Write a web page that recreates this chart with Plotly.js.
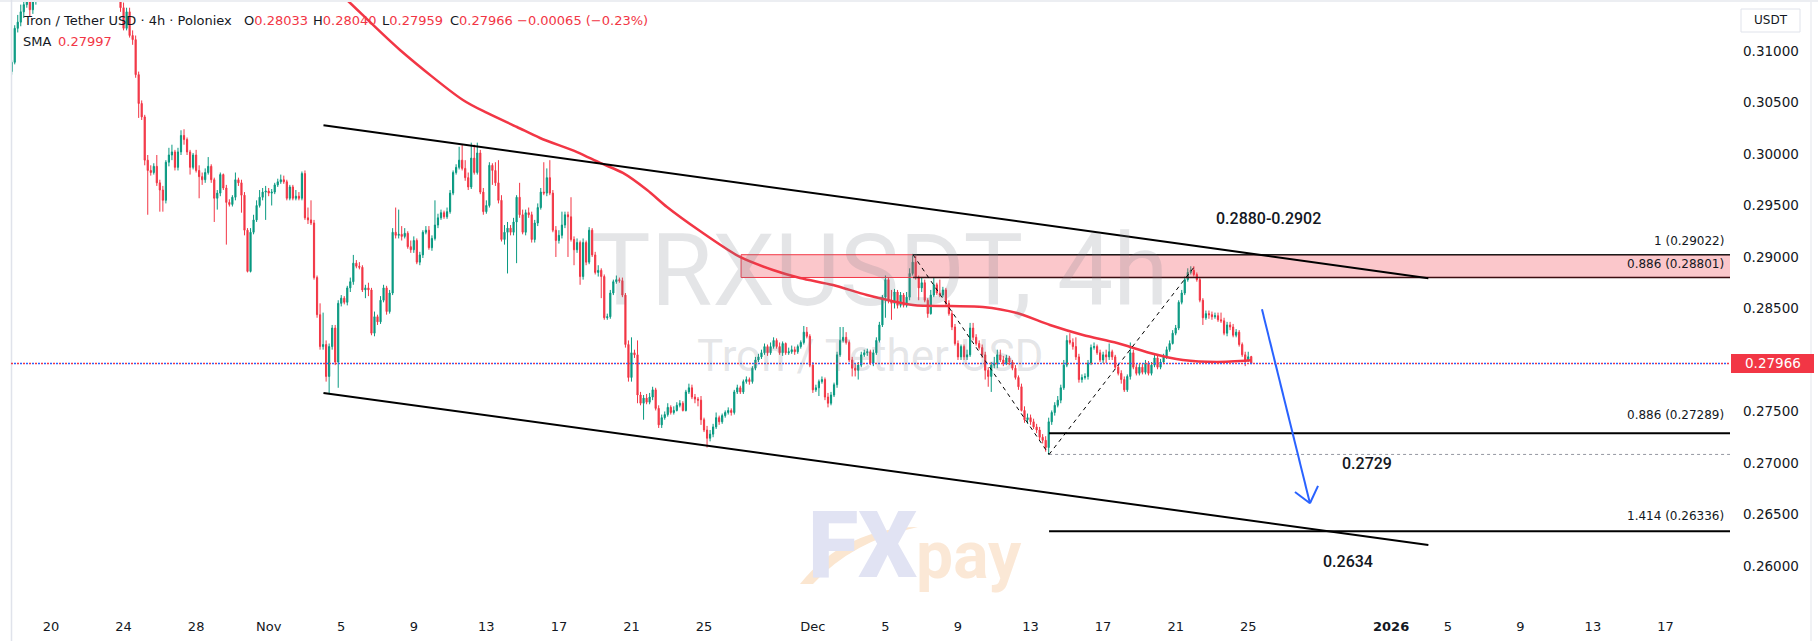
<!DOCTYPE html>
<html><head><meta charset="utf-8">
<script src="https://cdn.plot.ly/plotly-3.0.1.min.js"></script>
<style>html,body{margin:0;padding:0;background:#fff;}#chart{width:1818px;height:641px;}</style>
</head><body><div id="chart"></div>
<script>
// ---- 4h candles, TRX/USDT (Poloniex), first bar 2025-10-17 20:00 ----
const firstBarUTC = Date.UTC(2025, 9, 17, 20, 0);
const barHours = 4;
const open = [
0.3080,0.3089,0.3122,0.3128,0.3138,0.3145,0.3154,0.3140,0.3150,0.3159,
0.3168,0.3174,0.3180,0.3176,0.3187,0.3193,0.3188,0.3197,0.3202,0.3196,
0.3206,0.3211,0.3203,0.3198,0.3207,0.3212,0.3208,0.3200,0.3195,0.3202,
0.3196,0.3190,0.3186,0.3180,0.3174,0.3168,0.3159,0.3142,0.3122,0.3138,
0.3115,0.3111,0.3077,0.3049,0.3036,0.2994,0.2984,0.2982,0.2988,0.2972,
0.2965,0.2955,0.2992,0.2999,0.3002,0.2987,0.3002,0.3018,0.3014,0.3002,
0.2987,0.2999,0.2984,0.2978,0.2975,0.2982,0.2988,0.2975,0.2957,0.2962,
0.2980,0.2967,0.2953,0.2951,0.2958,0.2975,0.2972,0.2960,0.2926,0.2886,
0.2924,0.2936,0.2950,0.2958,0.2963,0.2964,0.2962,0.2963,0.2970,0.2973,
0.2975,0.2973,0.2957,0.2968,0.2957,0.2959,0.2957,0.2981,0.2938,0.2936,
0.2933,0.2880,0.2844,0.2813,0.2815,0.2784,0.2813,0.2831,0.2798,0.2855,
0.2860,0.2856,0.2870,0.2876,0.2894,0.2891,0.2890,0.2868,0.2870,0.2868,
0.2826,0.2842,0.2837,0.2858,0.2870,0.2847,0.2865,0.2924,0.2921,0.2922,
0.2920,0.2923,0.2910,0.2907,0.2916,0.2895,0.2902,0.2924,0.2926,0.2909,
0.2918,0.2931,0.2938,0.2943,0.2939,0.2944,0.2962,0.2982,0.2987,0.2994,
0.2986,0.2977,0.2968,0.2996,0.2982,0.3001,0.2963,0.2944,0.2950,0.2989,
0.2984,0.2972,0.2955,0.2917,0.2924,0.2928,0.2924,0.2934,0.2958,0.2941,
0.2924,0.2943,0.2941,0.2917,0.2933,0.2948,0.2963,0.2962,0.2977,0.2962,
0.2926,0.2916,0.2921,0.2931,0.2941,0.2939,0.2917,0.2907,0.2914,0.2881,
0.2914,0.2895,0.2926,0.2902,0.2885,0.2887,0.2881,0.2841,0.2842,0.2865,
0.2876,0.2878,0.2877,0.2863,0.2815,0.2783,0.2807,0.2805,0.2766,0.2758,
0.2763,0.2759,0.2764,0.2771,0.2753,0.2737,0.2744,0.2747,0.2754,0.2749,
0.2751,0.2756,0.2758,0.2751,0.2769,0.2773,0.2764,0.2762,0.2761,0.2742,
0.2732,0.2724,0.2728,0.2735,0.2744,0.2740,0.2746,0.2749,0.2751,0.2749,
0.2769,0.2773,0.2769,0.2779,0.2781,0.2779,0.2792,0.2800,0.2803,0.2807,
0.2813,0.2807,0.2813,0.2819,0.2813,0.2807,0.2816,0.2807,0.2808,0.2810,
0.2808,0.2813,0.2817,0.2827,0.2823,0.2795,0.2771,0.2773,0.2779,0.2781,
0.2764,0.2758,0.2766,0.2776,0.2805,0.2819,0.2822,0.2817,0.2800,0.2792,
0.2790,0.2795,0.2805,0.2807,0.2808,0.2797,0.2807,0.2819,0.2834,0.2861,
0.2878,0.2858,0.2855,0.2866,0.2853,0.2863,0.2853,0.2861,0.2884,0.2895,
0.2880,0.2870,0.2875,0.2858,0.2845,0.2863,0.2873,0.2865,0.2863,0.2868,
0.2855,0.2845,0.2832,0.2816,0.2803,0.2813,0.2803,0.2805,0.2831,0.2822,
0.2816,0.2812,0.2805,0.2790,0.2784,0.2795,0.2796,0.2805,0.2800,0.2797,
0.2802,0.2798,0.2792,0.2783,0.2774,0.2751,0.2742,0.2744,0.2740,0.2735,
0.2732,0.2725,0.2722,0.2715,0.2740,0.2749,0.2756,0.2761,0.2773,0.2795,
0.2819,0.2817,0.2813,0.2803,0.2781,0.2783,0.2784,0.2797,0.2812,0.2813,
0.2807,0.2800,0.2805,0.2803,0.2808,0.2803,0.2793,0.2787,0.2781,0.2771,
0.2784,0.2807,0.2793,0.2787,0.2793,0.2788,0.2797,0.2787,0.2795,0.2802,
0.2793,0.2798,0.2803,0.2810,0.2816,0.2826,0.2831,0.2856,0.2865,0.2878,
0.2885,0.2887,0.2883,0.2878,0.2858,0.2841,0.2845,0.2844,0.2842,0.2843,
0.2839,0.2838,0.2826,0.2834,0.2832,0.2824,0.2827,0.2815,0.2805,0.2800,
0.28033];
const high = [
0.3091,0.3125,0.3135,0.3145,0.3151,0.3159,0.3157,0.3154,0.3164,0.3172,
0.3178,0.3183,0.3186,0.3190,0.3196,0.3198,0.3200,0.3206,0.3205,0.3209,
0.3214,0.3213,0.3207,0.3210,0.3216,0.3215,0.3210,0.3203,0.3205,0.3204,
0.3199,0.3193,0.3189,0.3184,0.3178,0.3172,0.3164,0.3147,0.3142,0.3142,
0.3120,0.3115,0.3080,0.3052,0.3038,0.2999,0.2989,0.2991,0.2999,0.2975,
0.2969,0.2994,0.3006,0.3009,0.3004,0.3006,0.3023,0.3024,0.3016,0.3004,
0.3001,0.3004,0.2989,0.2982,0.2986,0.2997,0.2990,0.2977,0.2965,0.2982,
0.2981,0.2970,0.2956,0.2960,0.2982,0.2977,0.2975,0.2963,0.2928,0.2928,
0.2941,0.2955,0.2965,0.2967,0.2969,0.2967,0.2966,0.2972,0.2976,0.2980,
0.2979,0.2975,0.2970,0.2970,0.2965,0.2963,0.2983,0.2984,0.2948,0.2955,
0.2936,0.2882,0.2855,0.2846,0.2819,0.2816,0.2834,0.2834,0.2858,0.2863,
0.2862,0.2872,0.2880,0.2902,0.2897,0.2895,0.2892,0.2873,0.2875,0.2870,
0.2847,0.2844,0.2862,0.2873,0.2872,0.2868,0.2928,0.2948,0.2946,0.2930,
0.2928,0.2925,0.2916,0.2920,0.2918,0.2905,0.2926,0.2930,0.2930,0.2921,
0.2955,0.2942,0.2946,0.2945,0.2948,0.2965,0.2984,0.2990,0.3007,0.3009,
0.2994,0.2982,0.3011,0.3009,0.3011,0.3004,0.2967,0.2955,0.2992,0.2991,
0.2992,0.2994,0.2960,0.2931,0.2934,0.2931,0.2938,0.2960,0.2972,0.2946,
0.2946,0.2948,0.2944,0.2936,0.2952,0.2967,0.2992,0.2986,0.2994,0.2965,
0.2930,0.2926,0.2944,0.2944,0.2944,0.2958,0.2920,0.2918,0.2916,0.2918,
0.2916,0.2929,0.2928,0.2905,0.2892,0.2889,0.2883,0.2845,0.2868,0.2878,
0.2882,0.2880,0.2880,0.2865,0.2819,0.2822,0.2810,0.2819,0.2769,0.2766,
0.2767,0.2768,0.2774,0.2773,0.2756,0.2747,0.2750,0.2758,0.2756,0.2755,
0.2759,0.2761,0.2760,0.2771,0.2777,0.2776,0.2767,0.2764,0.2765,0.2744,
0.2736,0.2732,0.2738,0.2749,0.2746,0.2748,0.2751,0.2754,0.2753,0.2771,
0.2776,0.2775,0.2781,0.2784,0.2783,0.2794,0.2803,0.2806,0.2810,0.2816,
0.2815,0.2817,0.2822,0.2821,0.2817,0.2818,0.2817,0.2812,0.2814,0.2813,
0.2815,0.2819,0.2833,0.2832,0.2825,0.2798,0.2776,0.2781,0.2784,0.2783,
0.2768,0.2769,0.2778,0.2808,0.2832,0.2832,0.2827,0.2819,0.2803,0.2796,
0.2798,0.2808,0.2810,0.2811,0.2810,0.2810,0.2822,0.2837,0.2863,0.2882,
0.2880,0.2868,0.2869,0.2868,0.2866,0.2865,0.2866,0.2889,0.2903,0.2901,
0.2882,0.2880,0.2878,0.2860,0.2868,0.2880,0.2875,0.2878,0.2871,0.2870,
0.2858,0.2848,0.2835,0.2819,0.2815,0.2815,0.2810,0.2836,0.2836,0.2825,
0.2819,0.2815,0.2808,0.2793,0.2798,0.2803,0.2810,0.2810,0.2804,0.2805,
0.2804,0.2800,0.2795,0.2785,0.2777,0.2755,0.2748,0.2747,0.2743,0.2738,
0.2735,0.2728,0.2726,0.2744,0.2751,0.2759,0.2765,0.2776,0.2800,0.2824,
0.2826,0.2821,0.2822,0.2806,0.2786,0.2787,0.2800,0.2815,0.2817,0.2815,
0.2810,0.2808,0.2810,0.2816,0.2810,0.2805,0.2796,0.2790,0.2784,0.2786,
0.2817,0.2810,0.2796,0.2796,0.2796,0.2800,0.2799,0.2798,0.2805,0.2804,
0.2801,0.2806,0.2813,0.2819,0.2829,0.2834,0.2858,0.2868,0.2881,0.2889,
0.2891,0.2891,0.2885,0.2880,0.2860,0.2848,0.2848,0.2847,0.2846,0.2846,
0.2846,0.2841,0.2837,0.2837,0.2835,0.2830,0.2829,0.2817,0.2808,0.2808,
0.28040];
const low = [
0.3077,0.3087,0.3118,0.3124,0.3132,0.3142,0.3133,0.3136,0.3145,0.3155,
0.3162,0.3169,0.3171,0.3173,0.3182,0.3184,0.3185,0.3193,0.3192,0.3194,
0.3201,0.3200,0.3195,0.3196,0.3204,0.3205,0.3197,0.3191,0.3193,0.3192,
0.3187,0.3182,0.3177,0.3171,0.3165,0.3156,0.3138,0.3120,0.3120,0.3113,
0.3106,0.3074,0.3035,0.3033,0.2989,0.2941,0.2979,0.2980,0.2969,0.2944,
0.2944,0.2952,0.2988,0.2994,0.2984,0.2984,0.2999,0.3009,0.2999,0.2980,
0.2985,0.2982,0.2957,0.2970,0.2972,0.2980,0.2972,0.2934,0.2946,0.2959,
0.2965,0.2912,0.2949,0.2949,0.2955,0.2969,0.2943,0.2921,0.2885,0.2885,
0.2922,0.2934,0.2948,0.2955,0.2936,0.2959,0.2950,0.2961,0.2968,0.2971,
0.2971,0.2955,0.2955,0.2955,0.2955,0.2955,0.2955,0.2936,0.2932,0.2931,
0.2878,0.2841,0.2810,0.2810,0.2779,0.2768,0.2810,0.2795,0.2773,0.2852,
0.2854,0.2853,0.2866,0.2873,0.2889,0.2888,0.2866,0.2860,0.2862,0.2824,
0.2823,0.2834,0.2835,0.2856,0.2844,0.2845,0.2863,0.2918,0.2918,0.2916,
0.2918,0.2908,0.2904,0.2904,0.2893,0.2892,0.2899,0.2922,0.2907,0.2906,
0.2916,0.2928,0.2936,0.2937,0.2937,0.2942,0.2960,0.2980,0.2985,0.2984,
0.2974,0.2965,0.2966,0.2980,0.2980,0.2961,0.2941,0.2942,0.2948,0.2970,
0.2969,0.2952,0.2915,0.2912,0.2884,0.2921,0.2921,0.2894,0.2938,0.2922,
0.2921,0.2938,0.2914,0.2914,0.2930,0.2946,0.2960,0.2959,0.2960,0.2924,
0.2900,0.2913,0.2918,0.2928,0.2900,0.2915,0.2892,0.2904,0.2873,0.2878,
0.2892,0.2893,0.2900,0.2883,0.2881,0.2860,0.2839,0.2839,0.2840,0.2863,
0.2874,0.2875,0.2861,0.2812,0.2779,0.2779,0.2802,0.2758,0.2756,0.2742,
0.2757,0.2757,0.2761,0.2751,0.2734,0.2734,0.2742,0.2745,0.2747,0.2747,
0.2750,0.2754,0.2750,0.2750,0.2767,0.2762,0.2758,0.2755,0.2737,0.2730,
0.2715,0.2721,0.2725,0.2733,0.2737,0.2738,0.2744,0.2747,0.2746,0.2747,
0.2767,0.2767,0.2767,0.2777,0.2776,0.2777,0.2790,0.2798,0.2801,0.2805,
0.2804,0.2805,0.2811,0.2811,0.2805,0.2804,0.2805,0.2805,0.2806,0.2805,
0.2806,0.2811,0.2815,0.2821,0.2793,0.2768,0.2769,0.2765,0.2777,0.2761,
0.2754,0.2756,0.2764,0.2773,0.2803,0.2817,0.2815,0.2798,0.2784,0.2784,
0.2781,0.2793,0.2803,0.2804,0.2795,0.2794,0.2805,0.2817,0.2832,0.2841,
0.2855,0.2839,0.2850,0.2850,0.2851,0.2851,0.2851,0.2858,0.2882,0.2878,
0.2858,0.2866,0.2856,0.2841,0.2844,0.2861,0.2863,0.2861,0.2861,0.2853,
0.2843,0.2829,0.2814,0.2800,0.2800,0.2800,0.2800,0.2803,0.2819,0.2814,
0.2810,0.2802,0.2781,0.2774,0.2769,0.2792,0.2792,0.2798,0.2794,0.2795,
0.2795,0.2790,0.2781,0.2771,0.2750,0.2739,0.2738,0.2737,0.2733,0.2729,
0.2722,0.2719,0.2711,0.2708,0.2737,0.2746,0.2754,0.2758,0.2771,0.2793,
0.2815,0.2810,0.2800,0.2778,0.2778,0.2781,0.2781,0.2795,0.2810,0.2805,
0.2798,0.2797,0.2797,0.2800,0.2800,0.2791,0.2785,0.2777,0.2769,0.2769,
0.2781,0.2791,0.2785,0.2785,0.2786,0.2786,0.2785,0.2785,0.2793,0.2791,
0.2791,0.2796,0.2801,0.2808,0.2815,0.2824,0.2829,0.2854,0.2863,0.2876,
0.2883,0.2881,0.2876,0.2856,0.2834,0.2839,0.2840,0.2839,0.2840,0.2837,
0.2836,0.2824,0.2823,0.2829,0.2822,0.2822,0.2813,0.2803,0.2794,0.2798,
0.27959];
const close = [
0.3089,0.3122,0.3128,0.3138,0.3145,0.3154,0.3140,0.3150,0.3159,0.3168,
0.3174,0.3180,0.3176,0.3187,0.3193,0.3188,0.3197,0.3202,0.3196,0.3206,
0.3211,0.3203,0.3198,0.3207,0.3212,0.3208,0.3200,0.3195,0.3202,0.3196,
0.3190,0.3186,0.3180,0.3174,0.3168,0.3159,0.3142,0.3122,0.3138,0.3115,
0.3111,0.3077,0.3049,0.3036,0.2994,0.2984,0.2982,0.2988,0.2972,0.2965,
0.2955,0.2992,0.2999,0.3002,0.2987,0.3002,0.3018,0.3014,0.3002,0.2987,
0.2999,0.2984,0.2978,0.2975,0.2982,0.2988,0.2975,0.2957,0.2962,0.2980,
0.2967,0.2953,0.2951,0.2958,0.2975,0.2972,0.2960,0.2926,0.2886,0.2924,
0.2936,0.2950,0.2958,0.2963,0.2964,0.2962,0.2963,0.2970,0.2973,0.2975,
0.2973,0.2957,0.2968,0.2957,0.2959,0.2957,0.2981,0.2938,0.2936,0.2933,
0.2880,0.2844,0.2813,0.2815,0.2784,0.2813,0.2831,0.2798,0.2855,0.2860,
0.2856,0.2870,0.2876,0.2894,0.2891,0.2890,0.2868,0.2870,0.2868,0.2826,
0.2842,0.2837,0.2858,0.2870,0.2847,0.2865,0.2924,0.2921,0.2922,0.2920,
0.2923,0.2910,0.2907,0.2916,0.2895,0.2902,0.2924,0.2926,0.2909,0.2918,
0.2931,0.2938,0.2943,0.2939,0.2944,0.2962,0.2982,0.2987,0.2994,0.2986,
0.2977,0.2968,0.2996,0.2982,0.3001,0.2963,0.2944,0.2950,0.2989,0.2984,
0.2972,0.2955,0.2917,0.2924,0.2928,0.2924,0.2934,0.2958,0.2941,0.2924,
0.2943,0.2941,0.2917,0.2933,0.2948,0.2963,0.2962,0.2977,0.2962,0.2926,
0.2916,0.2921,0.2931,0.2941,0.2939,0.2917,0.2907,0.2914,0.2881,0.2914,
0.2895,0.2926,0.2902,0.2885,0.2887,0.2881,0.2841,0.2842,0.2865,0.2876,
0.2878,0.2877,0.2863,0.2815,0.2783,0.2807,0.2805,0.2766,0.2758,0.2763,
0.2759,0.2764,0.2771,0.2753,0.2737,0.2744,0.2747,0.2754,0.2749,0.2751,
0.2756,0.2758,0.2751,0.2769,0.2773,0.2764,0.2762,0.2761,0.2742,0.2732,
0.2724,0.2728,0.2735,0.2744,0.2740,0.2746,0.2749,0.2751,0.2749,0.2769,
0.2773,0.2769,0.2779,0.2781,0.2779,0.2792,0.2800,0.2803,0.2807,0.2813,
0.2807,0.2813,0.2819,0.2813,0.2807,0.2816,0.2807,0.2808,0.2810,0.2808,
0.2813,0.2817,0.2827,0.2823,0.2795,0.2771,0.2773,0.2779,0.2781,0.2764,
0.2758,0.2766,0.2776,0.2805,0.2819,0.2822,0.2817,0.2800,0.2792,0.2790,
0.2795,0.2805,0.2807,0.2808,0.2797,0.2807,0.2819,0.2834,0.2861,0.2878,
0.2858,0.2855,0.2866,0.2853,0.2863,0.2853,0.2861,0.2884,0.2895,0.2880,
0.2870,0.2875,0.2858,0.2845,0.2863,0.2873,0.2865,0.2863,0.2868,0.2855,
0.2845,0.2832,0.2816,0.2803,0.2813,0.2803,0.2805,0.2831,0.2822,0.2816,
0.2812,0.2805,0.2790,0.2784,0.2795,0.2796,0.2805,0.2800,0.2797,0.2802,
0.2798,0.2792,0.2783,0.2774,0.2751,0.2742,0.2744,0.2740,0.2735,0.2732,
0.2725,0.2722,0.2715,0.2740,0.2749,0.2756,0.2761,0.2773,0.2795,0.2819,
0.2817,0.2813,0.2803,0.2781,0.2783,0.2784,0.2797,0.2812,0.2813,0.2807,
0.2800,0.2805,0.2803,0.2808,0.2803,0.2793,0.2787,0.2781,0.2771,0.2784,
0.2807,0.2793,0.2787,0.2793,0.2788,0.2797,0.2787,0.2795,0.2802,0.2793,
0.2798,0.2803,0.2810,0.2816,0.2826,0.2831,0.2856,0.2865,0.2878,0.2885,
0.2887,0.2883,0.2878,0.2858,0.2841,0.2845,0.2844,0.2842,0.2843,0.2839,
0.2838,0.2826,0.2834,0.2832,0.2824,0.2827,0.2815,0.2805,0.2800,0.28031,
0.27966];

// SMA indicator
const smaDates = ['2025-11-03 20:00','2025-11-05 07:40','2025-11-08 05:45','2025-11-11 17:00','2025-11-13 01:00','2025-11-14 16:30','2025-11-15 23:00','2025-11-18 00:00','2025-11-19 06:30','2025-11-20 12:40','2025-11-21 20:40','2025-11-22 23:00','2025-11-24 18:40','2025-11-26 23:30','2025-11-28 19:10','2025-11-30 07:00','2025-12-02 02:40','2025-12-03 23:30','2025-12-06 12:30','2025-12-08 13:30','2025-12-10 09:00','2025-12-12 06:00','2025-12-14 01:40','2025-12-15 21:20','2025-12-17 18:30','2025-12-19 14:00','2025-12-21 09:40','2025-12-23 06:40','2025-12-25 04:00'];
const smaValues = [0.31738,0.31495,0.31010,0.30524,0.30398,0.30262,0.30155,0.30019,0.29913,0.29816,0.29650,0.29485,0.29252,0.29000,0.28874,0.28796,0.28728,0.28631,0.28534,0.28524,0.28515,0.28456,0.28340,0.28243,0.28165,0.28068,0.28000,0.27981,0.27997];

// axis ticks
const xTickVals = ['2025-10-20','2025-10-24','2025-10-28','2025-11-01','2025-11-05','2025-11-09','2025-11-13','2025-11-17','2025-11-21','2025-11-25','2025-12-01','2025-12-05','2025-12-09','2025-12-13','2025-12-17','2025-12-21','2025-12-25','2026-01-01 21:00','2026-01-05','2026-01-09','2026-01-13','2026-01-17'];
const xTickText = ['20','24','28','Nov','5','9','13','17','21','25','Dec','5','9','13','17','21','25','<b>2026</b>','5','9','13','17'];
const yTickVals = [0.26,0.265,0.27,0.275,0.285,0.29,0.295,0.30,0.305,0.31];

// drawings (dates / prices)
const zoneStart = '2025-11-27 01:00';
const fibTop = 0.29022, fibTop886 = 0.28801;
const fibTopStart = '2025-12-06 12:30';
const fibLow886 = 0.27289, fibLow1414 = 0.26336, swingLow = 0.27083;
const fibLowStart = '2025-12-14 00:30';
const extendTo = '2026-03-01';
const chanX = ['2025-11-04 00:30','2026-01-03 22:20'];
const chanUpper = [0.30280, 0.28794];
const chanLower = [0.27680, 0.26204];
const zigX = ['2025-12-06 12:30','2025-12-14 00:30','2025-12-22 01:30'];
const zigY = [0.29022, 0.27083, 0.28913];
const arrowX = ['2025-12-25 18:10','2025-12-28 09:40'];
const arrowY = [0.28492, 0.26609];
const wingX = ['2025-12-27 13:50','2025-12-28 20:20'];
const wingY = [0.26718, 0.26777];

const n = close.length - 1;
const times = open.map((_, i) => new Date(firstBarUTC + i * barHours * 3600000).toISOString().slice(0, 16).replace('T', ' '));

const RED = '#f23645', GREEN = '#089981', INK = '#131722';
const ML = 11, MT = 0, PW = 1719, PH = 608;
const px = x => (x - ML) / PW, py = y => 1 - (y - MT) / PH;

function lab(x, y, text, o) {
  o = o || {};
  return {xref: 'paper', yref: 'paper', x: px(x), y: py(y), text: text, showarrow: false,
    xanchor: o.anchor || 'left', yanchor: 'middle', borderpad: 0,
    font: {family: o.family || 'DejaVu Sans', size: o.size || 13, color: o.color || INK, weight: o.weight || 400}};
}
const red = s => '<span style="color:' + RED + '">' + s + '</span>';
const hline = (x0, y, color, width, dash) => ({type: 'line', xref: 'x', yref: 'y', x0: x0, x1: extendTo, y0: y, y1: y, line: {color: color, width: width, dash: dash || 'solid'}});
const seg = (xa, ya, xb, yb, color, width, dash) => ({type: 'line', xref: 'x', yref: 'y', x0: xa, y0: ya, x1: xb, y1: yb, line: {color: color, width: width, dash: dash || 'solid'}});

const change = close[n] - close[n - 1];
const pct = change / close[n - 1] * 100;
const fmtNeg = v => (v < 0 ? '\u2212' : '+') + Math.abs(v).toFixed(5);

const shapes = [
  {type: 'rect', xref: 'paper', yref: 'paper', x0: px(0), x1: px(1818), y0: py(0), y1: py(2), fillcolor: '#eceef2', line: {width: 0}},
  {type: 'line', xref: 'paper', yref: 'paper', x0: px(11.5), x1: px(11.5), y0: py(0), y1: py(641), line: {color: '#e0e3eb', width: 1.5}},
  {type: 'line', xref: 'paper', yref: 'paper', x0: px(1811), x1: px(1811), y0: py(0), y1: py(641), line: {color: '#eceef2', width: 1.5}},
  // FXpay swoosh
  {type: 'path', xref: 'paper', yref: 'paper', path: 'M' + px(800) + ',' + py(584) + ' Q' + px(845) + ',' + py(528) + ' ' + px(918) + ',' + py(527) + ' Q' + px(852) + ',' + py(541) + ' ' + px(813) + ',' + py(584) + ' Z', fillcolor: '#fbe6d0', line: {width: 0}, layer: 'below'},
  // supply zone
  {type: 'rect', xref: 'x', yref: 'y', x0: zoneStart, x1: extendTo, y0: fibTop886, y1: fibTop, fillcolor: 'rgba(242,54,69,0.28)', line: {color: RED, width: 1}},
  hline(fibTopStart, fibTop, '#1b1b1b', 1.5),
  hline(fibTopStart, fibTop886, '#3a0d10', 1.5),
  hline(fibLowStart, fibLow886, '#000', 2),
  hline(fibLowStart, fibLow1414, '#000', 2),
  hline(fibLowStart, swingLow, '#9598a1', 1, 'dot'),
  // channel
  seg(chanX[0], chanUpper[0], chanX[1], chanUpper[1], '#000', 2),
  seg(chanX[0], chanLower[0], chanX[1], chanLower[1], '#000', 2),
  // zigzag
  seg(zigX[0], zigY[0], zigX[1], zigY[1], '#000', 1, '4px,4px'),
  seg(zigX[1], zigY[1], zigX[2], zigY[2], '#000', 1, '4px,4px'),
  // arrow
  seg(arrowX[0], arrowY[0], arrowX[1], arrowY[1], '#2962ff', 2),
  seg(wingX[0], wingY[0], arrowX[1], arrowY[1], '#2962ff', 2),
  seg(wingX[1], wingY[1], arrowX[1], arrowY[1], '#2962ff', 2),
  // last price line: interleaved red / blue dots
  {type: 'line', xref: 'paper', yref: 'y', x0: 0, x1: 1, y0: close[n], y1: close[n], line: {color: RED, width: 1.5, dash: '2px,4px'}},
  {type: 'line', xref: 'paper', yref: 'y', x0: 3 / PW, x1: 1, y0: close[n], y1: close[n], line: {color: '#2962ff', width: 1.5, dash: '2px,4px'}},
  // price label box
  {type: 'rect', xref: 'paper', yref: 'y', x0: px(1731), x1: px(1814), y0: close[n] - 0.00092, y1: close[n] + 0.00092, fillcolor: RED, line: {width: 0}},
  // USDT box
  {type: 'rect', xref: 'paper', yref: 'paper', x0: px(1741), x1: px(1800), y0: py(32), y1: py(9), fillcolor: '#fff', line: {color: '#e0e3eb', width: 1}}
];

const annotations = [
  lab(880, 270, 'TRXUSDT, 4h', {anchor: 'center', family: 'Roboto', size: 100, color: 'rgba(120,123,134,0.2)'}),
  lab(870, 356, 'Tron / Tether USD', {anchor: 'center', family: 'Roboto', size: 44, color: 'rgba(120,123,134,0.2)'}),
  lab(862, 545, 'FX', {anchor: 'center', family: 'Roboto', size: 92, weight: 900, color: '#e1e3f3'}),
  lab(969, 555, 'pay', {anchor: 'center', family: 'Roboto', size: 66, weight: 700, color: '#fbe8d6'}),
  lab(22, 20, 'Tron / Tether USD \u00b7 4h \u00b7 Poloniex'),
  lab(243, 20, 'O' + red(open[n].toFixed(5))),
  lab(312, 20, 'H' + red(high[n].toFixed(5))),
  lab(381, 20, 'L' + red(low[n].toFixed(5))),
  lab(449, 20, 'C' + red(close[n].toFixed(5))),
  lab(516, 20, red(fmtNeg(change) + ' (' + (pct < 0 ? '\u2212' : '+') + Math.abs(pct).toFixed(2) + '%)')),
  lab(22, 41, 'SMA'),
  lab(57, 41, red(smaValues[smaValues.length - 1].toFixed(5))),
  lab(1725, 241, '1 (' + fibTop.toFixed(5) + ')', {anchor: 'right', size: 12}),
  lab(1725, 264, '0.886 (' + fibTop886.toFixed(5) + ')', {anchor: 'right', size: 12}),
  lab(1725, 415, '0.886 (' + fibLow886.toFixed(5) + ')', {anchor: 'right', size: 12}),
  lab(1725, 516, '1.414 (' + fibLow1414.toFixed(5) + ')', {anchor: 'right', size: 12}),
  lab(1268, 218, '0.2880-0.2902', {anchor: 'center', family: 'Roboto', size: 16, weight: 500}),
  lab(1367, 463, '0.2729', {anchor: 'center', family: 'Roboto', size: 16, weight: 500}),
  lab(1348, 561, '0.2634', {anchor: 'center', family: 'Roboto', size: 16, weight: 500}),
  lab(1770.5, 20.5, 'USDT', {anchor: 'center', size: 12}),
  {xref: 'paper', yref: 'y', x: px(1772.5), y: close[n], text: close[n].toFixed(5), showarrow: false, xanchor: 'center', yanchor: 'middle', borderpad: 0, font: {family: 'DejaVu Sans', size: 13.5, color: '#fff'}}
];

const traces = [
  {type: 'candlestick', x: times, open: open, high: high, low: low, close: close,
   increasing: {line: {color: GREEN, width: 1}, fillcolor: GREEN},
   decreasing: {line: {color: RED, width: 1}, fillcolor: RED},
   whiskerwidth: 0, hoverinfo: 'skip', showlegend: false},
  {type: 'scatter', mode: 'lines', x: smaDates, y: smaValues, line: {color: RED, width: 2.5, shape: 'spline', smoothing: 0.8}, hoverinfo: 'skip', showlegend: false}
];

const layout = {
  width: 1818, height: 641, margin: {l: ML, r: 88, t: MT, b: 33},
  paper_bgcolor: '#fff', plot_bgcolor: '#fff', showlegend: false, hovermode: false, boxgap: 0.45,
  font: {family: 'DejaVu Sans', size: 13, color: INK},
  xaxis: {type: 'date', range: ['2025-10-17 19:05', '2026-01-20 13:24'], rangeslider: {visible: false},
    showgrid: false, zeroline: false, showline: false, ticks: '', tickmode: 'array', tickvals: xTickVals, ticktext: xTickText,
    tickfont: {family: 'DejaVu Sans', size: 13, color: INK}, ticklabelstandoff: 9},
  yaxis: {side: 'right', range: [0.25592, 0.31495], showgrid: false, zeroline: false, showline: false, ticks: '',
    tickmode: 'array', tickvals: yTickVals, ticktext: yTickVals.map(v => v.toFixed(5)),
    tickfont: {family: 'DejaVu Sans', size: 13.5, color: INK}, ticklabelstandoff: 12},
  shapes: shapes, annotations: annotations
};

Plotly.newPlot('chart', traces, layout, {staticPlot: true, displayModeBar: false});
</script></body></html>
